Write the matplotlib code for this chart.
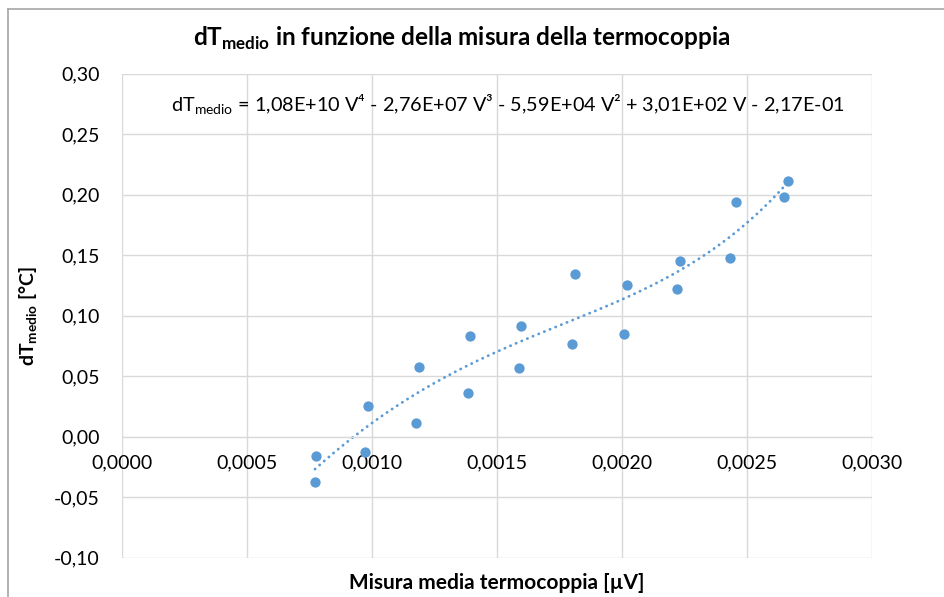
import numpy as np
from matplotlib import pyplot as plt
from matplotlib.lines import Line2D

# mean thermocouple reading [V] and mean temperature difference [°C]
misura_v = [0.000772, 0.000778, 0.000973, 0.000984, 0.001175, 0.001188,
            0.001383, 0.001393, 0.001590, 0.001598, 0.001800, 0.001813,
            0.002008, 0.002021, 0.002221, 0.002234, 0.002433, 0.002457,
            0.002650, 0.002664]
dt_medio = [-0.0372, -0.0157, -0.0126, 0.0254, 0.0116, 0.0578,
            0.0361, 0.0834, 0.0568, 0.0917, 0.0766, 0.1341,
            0.0851, 0.1256, 0.1218, 0.1451, 0.1476, 0.1936,
            0.1983, 0.2115]

# 4th order trendline coefficients (highest power first)
coeff = [1.08e10, -2.76e7, -5.59e4, 3.01e2, -2.17e-1]

x_ticks = [0.0, 0.0005, 0.0010, 0.0015, 0.0020, 0.0025, 0.0030]
y_ticks = [-0.10, -0.05, 0.00, 0.05, 0.10, 0.15, 0.20, 0.25, 0.30]

plt.rcParams['font.family'] = ['Lato', 'DejaVu Sans']
plt.rcParams['mathtext.fontset'] = 'custom'
plt.rcParams['mathtext.rm'] = 'Lato'
plt.rcParams['mathtext.bf'] = 'Lato:bold'

blue = '#5b9bd5'
grid = '#d9d9d9'

fig = plt.figure(figsize=(9.44, 5.97), dpi=100)
ax = fig.add_axes([0.1292, 0.0658, 0.7945, 0.8108])

ax.scatter(misura_v, dt_medio, s=55, color=blue, zorder=3, linewidths=0)

v = np.linspace(min(misura_v), max(misura_v), 200)
ax.plot(v, np.polyval(coeff, v), color=blue, lw=2.0, linestyle=(0, (0.1, 2.1)),
        dash_capstyle='round', zorder=2)

ax.set_xlim(0, 0.003)
ax.set_ylim(-0.10, 0.30)
ax.set_xticks(x_ticks)
ax.set_yticks(y_ticks)
ax.set_xticklabels([f'{t:.4f}'.replace('.', ',') for t in x_ticks])
ax.set_yticklabels([f'{t:.2f}'.replace('.', ',').replace('-0,00', '0,00') for t in y_ticks])
ax.grid(True, color=grid, lw=1)
ax.set_axisbelow(True)

for s in ['top', 'right', 'left']:
    ax.spines[s].set_visible(False)
ax.spines['bottom'].set_position(('data', 0))
ax.spines['bottom'].set_color(grid)
ax.tick_params(length=0, labelsize=14, colors='black')
ax.tick_params(axis='x', pad=13)
ax.tick_params(axis='y', pad=16)

ax.set_xlabel('Misura media termocoppia [µV]', fontsize=15, fontweight='bold')
ax.xaxis.set_label_coords(0.5, -0.032)
ax.set_ylabel(r'dT$_{\mathbf{medio}}$ [°C]', fontsize=14, fontweight='bold')
ax.yaxis.set_label_coords(-0.109, 0.5)

fig.text(0.489, 0.935, r'dT$_{\mathbf{medio}}$ in funzione della misura della termocoppia',
         ha='center', va='center', fontsize=17.5, fontweight='bold')

eq = (r'dT$_{\mathrm{medio}}$ = 1,08E+10 V⁴ - 2,76E+07 V³ - 5,59E+04 V² '
      r'+ 3,01E+02 V - 2,17E-01')
ax.text(0.065, 0.935, eq, transform=ax.transAxes, ha='left', va='center', fontsize=14.3)

# chart frame, clipped at the right and bottom edges
fig.add_artist(Line2D([8 / 944, 1], [1 - 9 / 597] * 2, color='#a6a6a6', lw=1.2))
fig.add_artist(Line2D([8 / 944] * 2, [0, 1 - 9 / 597], color='#a6a6a6', lw=1.2))

fig.savefig('out.png', dpi=100)
